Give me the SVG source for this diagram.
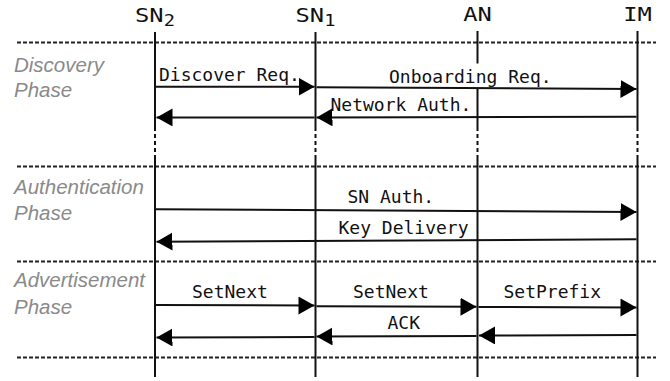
<svg xmlns="http://www.w3.org/2000/svg" width="670" height="381" viewBox="0 0 670 381">
  <style>
    .hdr { font-family: "DejaVu Sans Mono", "Liberation Mono", monospace; font-size: 19px; fill: #111; text-anchor: middle; }
    .msg { font-family: "DejaVu Sans Mono", "Liberation Mono", monospace; font-size: 18px; fill: #111; }
    .phase { font-family: "Liberation Sans", Arial, sans-serif; font-size: 20.5px; font-style: italic; fill: #8a8a8a; }
    .sep { stroke: #222; stroke-width: 2; stroke-dasharray: 4 2; fill: none; }
    .life { stroke: #111; stroke-width: 2; fill: none; }
    .lifed { stroke: #111; stroke-width: 2; stroke-dasharray: 4 3; fill: none; }
    .arr { stroke: #111; stroke-width: 2; fill: none; marker-end: url(#head); }
  </style>
  <defs>
    <marker id="head" markerUnits="userSpaceOnUse" markerWidth="17" markerHeight="19" refX="16" refY="9" orient="auto" viewBox="0 0 17 19">
      <path d="M0,0 L16,9 L0,18 z" fill="#000"/>
    </marker>
  </defs>

  <rect x="0" y="0" width="670" height="381" fill="#fff"/>

  <!-- phase separators -->
  <g id="separators">
    <line class="sep" x1="17" y1="42.5" x2="656" y2="42.5"/>
    <line class="sep" x1="17" y1="166.5" x2="656" y2="166.5"/>
    <line class="sep" x1="17" y1="261.5" x2="656" y2="261.5"/>
    <line class="sep" x1="17" y1="357.5" x2="656" y2="357.5"/>
  </g>

  <!-- phase labels -->
  <g id="phase-discovery">
    <text class="phase" x="14" y="71.5">Discovery</text>
    <text class="phase" x="14" y="97">Phase</text>
  </g>
  <g id="phase-authentication">
    <text class="phase" x="14" y="193.5">Authentication</text>
    <text class="phase" x="14" y="219.5">Phase</text>
  </g>
  <g id="phase-advertisement">
    <text class="phase" x="14" y="287">Advertisement</text>
    <text class="phase" x="14" y="313.5">Phase</text>
  </g>

  <!-- participants -->
  <g id="SN2">
    <text class="hdr" transform="translate(155 22) scale(1.25 1)">SN<tspan font-size="15" dy="4">2</tspan></text>
    <line class="life" x1="155" y1="32" x2="155" y2="127"/>
    <line class="lifed" x1="155" y1="127" x2="155" y2="155"/>
    <line class="life" x1="155" y1="155" x2="155" y2="377"/>
  </g>
  <g id="SN1">
    <text class="hdr" transform="translate(315.5 22) scale(1.25 1)">SN<tspan font-size="15" dy="4">1</tspan></text>
    <line class="life" x1="315.5" y1="32" x2="315.5" y2="127"/>
    <line class="lifed" x1="315.5" y1="127" x2="315.5" y2="155"/>
    <line class="life" x1="315.5" y1="155" x2="315.5" y2="377"/>
  </g>
  <g id="AN">
    <text class="hdr" transform="translate(477.5 21) scale(1.25 1)">AN</text>
    <line class="life" x1="477.5" y1="31" x2="477.5" y2="63.5"/>
    <line class="life" x1="477.5" y1="88" x2="477.5" y2="127"/>
    <line class="lifed" x1="477.5" y1="127" x2="477.5" y2="155"/>
    <line class="life" x1="477.5" y1="155" x2="477.5" y2="377"/>
  </g>
  <g id="IM">
    <text class="hdr" transform="translate(637.5 21) scale(1.25 1)">IM</text>
    <line class="life" x1="637.5" y1="31" x2="637.5" y2="127"/>
    <line class="lifed" x1="637.5" y1="127" x2="637.5" y2="155"/>
    <line class="life" x1="637.5" y1="155" x2="637.5" y2="377"/>
  </g>

  <!-- connectors -->
  <g id="connectors">
    <line class="arr" x1="156" y1="86.7" x2="314.5" y2="86.7"/>
    <line class="arr" x1="316.5" y1="87.3" x2="636.5" y2="89"/>
    <line class="arr" x1="636.5" y1="116.7" x2="316.5" y2="117.4"/>
    <line class="arr" x1="314.5" y1="117.4" x2="156.5" y2="117.4"/>
    <line class="arr" x1="156" y1="209.3" x2="636.5" y2="212"/>
    <line class="arr" x1="636.5" y1="239.3" x2="156.5" y2="241.7"/>
    <line class="arr" x1="156" y1="305" x2="314.5" y2="305.5"/>
    <line class="arr" x1="316.5" y1="306.3" x2="476.5" y2="306.8"/>
    <line class="arr" x1="478.5" y1="307" x2="636.5" y2="307.5"/>
    <line class="arr" x1="636.5" y1="335" x2="479" y2="335.5"/>
    <line class="arr" x1="476.5" y1="336" x2="316.5" y2="336.5"/>
    <line class="arr" x1="314.5" y1="337" x2="156.5" y2="337.5"/>

    <text class="msg" x="159" y="81">Discover Req.</text>
    <text class="msg" x="389" y="83">Onboarding Req.</text>
    <text class="msg" x="330.5" y="111">Network Auth.</text>
    <text class="msg" x="347.5" y="203">SN Auth.</text>
    <text class="msg" x="338.5" y="234">Key Delivery</text>
    <text class="msg" x="192" y="298">SetNext</text>
    <text class="msg" x="353" y="298">SetNext</text>
    <text class="msg" x="503.5" y="298">SetPrefix</text>
    <text class="msg" x="387.5" y="329">ACK</text>
  </g>
</svg>
